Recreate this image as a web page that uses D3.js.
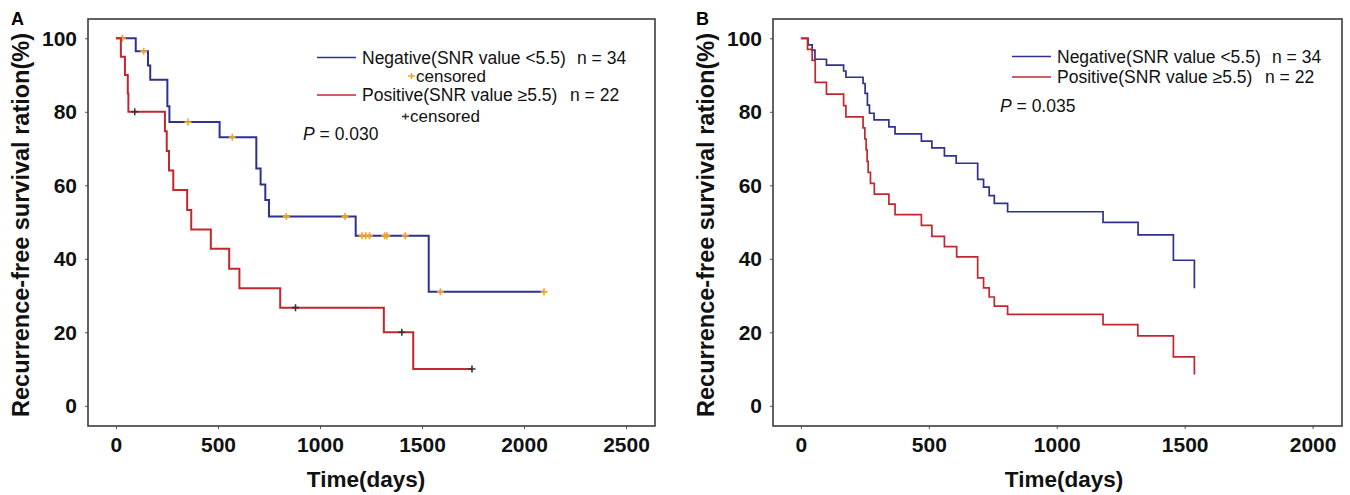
<!DOCTYPE html>
<html>
<head>
<meta charset="utf-8">
<script src="https://cdn.jsdelivr.net/npm/d3@7"></script>
<style>
  body { margin: 0; background: #fff; }
  svg { display: block; font-family: "Liberation Sans", Arial, sans-serif; }
  .tick line { stroke: #555; }
  .tick text { font-size: 21px; font-weight: bold; fill: #111; }
</style>
</head>
<body>
<svg id="chart" width="1350" height="495"></svg>
<script>
// Kaplan-Meier curves: event day and survival (%) after it.

// Panel A
const negA_days = [0, 97, 157, 168, 252, 262, 508, 688, 709, 732, 750, 1175, 1533];
const negA_surv = [100, 96.5, 92.6, 88.7, 81.5, 77.2, 73.1, 64.6, 60.2, 56.0, 51.5, 46.3, 31.0];
const negA_end = 2098;
const negA_censor = [31, 136, 353, 570, 835, 1123, 1206, 1224, 1243, 1317, 1328, 1418, 1590, 2098];

const posA_days = [0, 24, 44, 58, 61, 240, 249, 260, 281, 349, 369, 465, 555, 605, 805, 1313, 1457];
const posA_surv = [100, 95, 90, 85, 80, 74.7, 69.3, 64, 58.7, 53.3, 48, 42.7, 37.3, 32, 26.7, 20, 10];
const posA_end = 1745;
const posA_censor = [92, 880, 1401, 1745];

// Panel B
const negB_days = [0, 28, 44, 55, 100, 167, 176, 243, 251, 260, 268, 286, 344, 368, 471, 512, 561, 607, 691, 714, 736, 756, 808, 1181, 1318, 1456, 1538];
const negB_surv = [100, 98.2, 96.8, 94.3, 92.7, 91.1, 89.4, 87.7, 85.0, 81.8, 79.6, 77.8, 75.9, 74.0, 72.0, 70.2, 68.0, 66.0, 61.6, 59.5, 57.2, 55.1, 52.8, 49.9, 46.5, 39.6, 32.0];

const posB_days = [0, 26, 44, 56, 100, 167, 176, 243, 250, 255, 259, 263, 272, 287, 344, 368, 471, 512, 561, 609, 691, 714, 736, 756, 808, 1181, 1317, 1456, 1538];
const posB_surv = [100, 97.0, 94.0, 88.0, 84.8, 81.7, 78.6, 75.6, 72.6, 69.6, 66.5, 63.5, 60.5, 57.6, 54.9, 52.0, 49.1, 46.1, 43.3, 40.5, 34.8, 32.1, 29.6, 27.1, 24.9, 22.1, 19.0, 13.3, 8.5];

// Axis ticks and labels
const xTicksA = [0, 500, 1000, 1500, 2000, 2500];
const xTicksB = [0, 500, 1000, 1500, 2000];
const yTicks = [0, 20, 40, 60, 80, 100];
const legendNeg = "Negative(SNR value <5.5)";
const legendPos = "Positive(SNR value \u22655.5)";
const nNeg = "n = 34";
const nPos = "n = 22";

const blue = "#2f3190";
const red = "#c3272e";
const orange = "#f5a31c";

const svg = d3.select("#chart");


// Build the point list of one step curve, optionally extended flat to an end day.
function stepPoints (days, surv, endDay) {
    let pts = days.map((d, i) => [d, surv[i]]);
    if (endDay !== undefined) { pts.push([endDay, surv[surv.length - 1]]); }
    return pts;
}


// Survival level of a curve at a given day.
function survAt (days, surv, day) {
    let i = d3.bisectRight(days, day) - 1;
    return surv[Math.max(0, i)];
}


// Draw one panel: frame, axes, titles and curves.
function drawPanel (p) {
    let x = d3.scaleLinear().domain(p.xDomain).range([p.left, p.right]);
    let y = d3.scaleLinear().domain([-5.5, 105.25]).range([426, 19]);

    // Axes with small outward ticks.
    let gx = svg.append("g").attr("transform", "translate(0,426)")
        .call(d3.axisBottom(x).tickValues(p.xTicks).tickSize(3).tickPadding(8).tickFormat(d3.format("d")));
    let gy = svg.append("g").attr("transform", "translate(" + p.left + ",0)")
        .call(d3.axisLeft(y).tickValues(yTicks).tickSize(3).tickPadding(8).tickFormat(d3.format("d")));
    gx.select(".domain").remove();
    gy.select(".domain").remove();

    // Plot frame.
    svg.append("rect")
        .attr("x", p.left).attr("y", 19)
        .attr("width", p.right - p.left).attr("height", 407)
        .attr("fill", "none").attr("stroke", "#3c3c3c").attr("stroke-width", 1.6);

    // Curves.
    let line = d3.line().x(d => x(d[0])).y(d => y(d[1])).curve(d3.curveStepAfter);
    p.curves.forEach(c => {
        svg.append("path")
            .attr("d", line(stepPoints(c.days, c.surv, c.end)))
            .attr("fill", "none").attr("stroke", c.color).attr("stroke-width", p.lineWidth);
        // Censor marks as small plus signs.
        (c.censor || []).forEach(t => {
            let cx = x(t), cy = y(survAt(c.days, c.surv, t));
            svg.append("path")
                .attr("d", "M" + (cx - 3.5) + "," + cy + "H" + (cx + 3.5) + "M" + cx + "," + (cy - 3.5) + "V" + (cy + 3.5))
                .attr("stroke", c.censorColor).attr("stroke-width", 1.6);
        });
    });

    // Panel letter and axis titles.
    svg.append("text").text(p.letter)
        .attr("x", p.left - 77).attr("y", 25)
        .attr("font-size", 18).attr("font-weight", "bold");
    svg.append("text").text("Recurrence-free survival ration(%)")
        .attr("transform", "translate(" + (p.left - 59) + ",225) rotate(-90)")
        .attr("text-anchor", "middle")
        .attr("font-size", 23.5).attr("font-weight", "bold").attr("fill", "#111");
    svg.append("text").text("Time(days)")
        .attr("x", p.titleX).attr("y", 487)
        .attr("text-anchor", "middle")
        .attr("font-size", 22.5).attr("font-weight", "bold").attr("fill", "#111");
}


// Legend row: coloured line sample, label and group size.
function legendRow (x0, yLine, label, n, nOffset, color, width) {
    svg.append("line")
        .attr("x1", x0).attr("x2", x0 + 39).attr("y1", yLine).attr("y2", yLine)
        .attr("stroke", color).attr("stroke-width", width);
    svg.append("text").text(label)
        .attr("x", x0 + 45).attr("y", yLine + 6)
        .attr("font-size", 17.5).attr("fill", "#111");
    svg.append("text").text(n)
        .attr("x", x0 + 45 + nOffset).attr("y", yLine + 6)
        .attr("font-size", 17.5).attr("fill", "#111");
}


// "+censored" note under a legend row.
function censorNote (x0, yBase, color) {
    svg.append("path")
        .attr("d", "M" + x0 + "," + (yBase - 5.5) + "H" + (x0 + 7) + "M" + (x0 + 3.5) + "," + (yBase - 8.5) + "V" + (yBase - 2.5))
        .attr("stroke", color).attr("stroke-width", 1.5);
    svg.append("text").text("censored")
        .attr("x", x0 + 8).attr("y", yBase)
        .attr("font-size", 17).attr("fill", "#111");
}


// P value text with italic P.
function pValue (x0, yBase, value) {
    let t = svg.append("text").attr("x", x0).attr("y", yBase).attr("font-size", 17.5).attr("fill", "#111");
    t.append("tspan").text("P").attr("font-style", "italic");
    t.append("tspan").text(" = " + value);
}


drawPanel({
    letter: "A", left: 88, right: 655, xDomain: [-137, 2642], xTicks: xTicksA, titleX: 366, lineWidth: 2,
    curves: [
        { days: negA_days, surv: negA_surv, end: negA_end, censor: negA_censor, color: blue, censorColor: orange },
        { days: posA_days, surv: posA_surv, end: posA_end, censor: posA_censor, color: red, censorColor: "#333" }
    ]
});
drawPanel({
    letter: "B", left: 773, right: 1342, xDomain: [-109, 2115], xTicks: xTicksB, titleX: 1064, lineWidth: 1.7,
    curves: [
        { days: negB_days, surv: negB_surv, color: blue },
        { days: posB_days, surv: posB_surv, color: red }
    ]
});

// Legends.
legendRow(317, 57.5, legendNeg, nNeg, 215, blue, 1.6);
censorNote(408, 81.5, orange);
legendRow(317, 95, legendPos, nPos, 208, red, 1.6);
censorNote(402, 122, "#333");
pValue(303, 140, "0.030");

legendRow(1012, 56.5, legendNeg, nNeg, 215, blue, 1.4);
legendRow(1012, 77, legendPos, nPos, 208, red, 1.4);
pValue(1000, 111.5, "0.035");
</script>
</body>
</html>
